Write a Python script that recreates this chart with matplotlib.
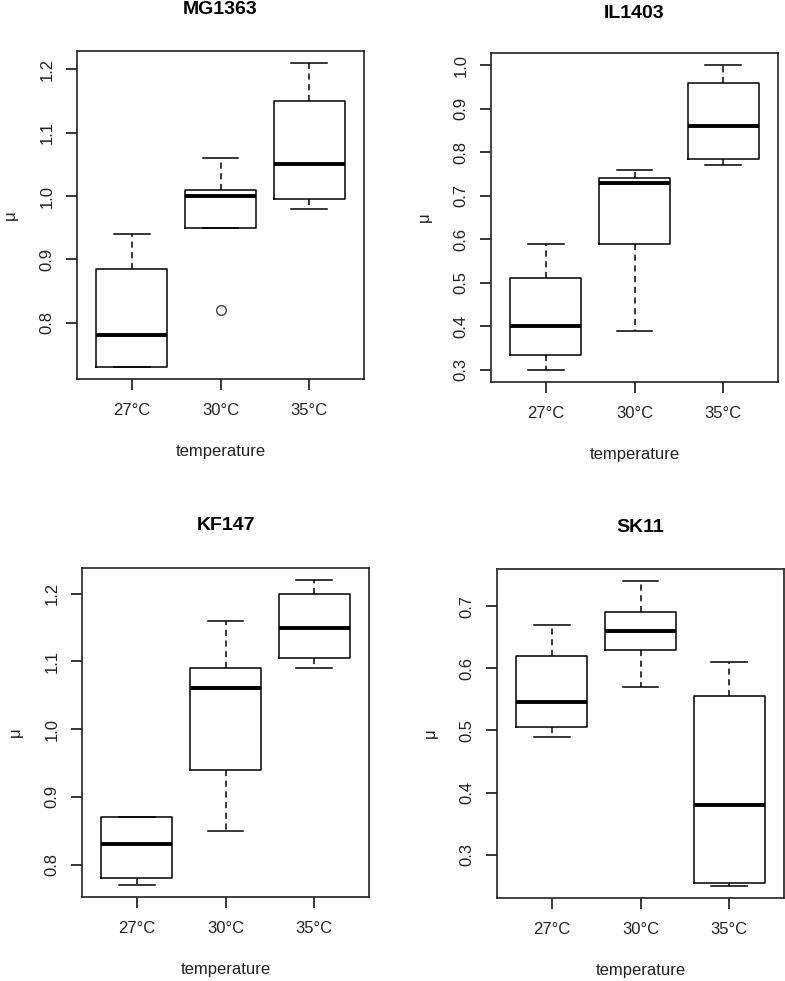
import matplotlib.pyplot as plt

plt.rcParams['font.family'] = ['Liberation Sans', 'DejaVu Sans']

temps = ['27°C', '30°C', '35°C']
strains = ['MG1363', 'IL1403', 'KF147', 'SK11']

# five-number summaries: (whislo, q1, med, q3, whishi)
mg1363 = [(0.73, 0.73, 0.78, 0.885, 0.94),
          (0.95, 0.95, 1.00, 1.01, 1.06),
          (0.98, 0.995, 1.05, 1.15, 1.21)]
mg1363_out = [[], [0.82], []]

il1403 = [(0.30, 0.335, 0.40, 0.51, 0.59),
          (0.39, 0.59, 0.73, 0.74, 0.76),
          (0.77, 0.785, 0.86, 0.96, 1.00)]
il1403_out = [[], [], []]

kf147 = [(0.77, 0.78, 0.83, 0.87, 0.87),
         (0.85, 0.94, 1.06, 1.09, 1.16),
         (1.09, 1.105, 1.15, 1.20, 1.22)]
kf147_out = [[], [], []]

sk11 = [(0.49, 0.505, 0.545, 0.62, 0.67),
        (0.57, 0.63, 0.66, 0.69, 0.74),
        (0.25, 0.255, 0.38, 0.555, 0.61)]
sk11_out = [[], [], []]

yticks = {
    'MG1363': [0.8, 0.9, 1.0, 1.1, 1.2],
    'IL1403': [0.3, 0.4, 0.5, 0.6, 0.7, 0.8, 0.9, 1.0],
    'KF147': [0.8, 0.9, 1.0, 1.1, 1.2],
    'SK11': [0.3, 0.4, 0.5, 0.6, 0.7],
}

data = {'MG1363': (mg1363, mg1363_out), 'IL1403': (il1403, il1403_out),
        'KF147': (kf147, kf147_out), 'SK11': (sk11, sk11_out)}

W, H = 785, 981
# axes boxes in pixels: left, top, right, bottom
boxes = {
    'MG1363': (77, 51, 364, 379),
    'IL1403': (491, 53, 778, 382),
    'KF147': (82, 568, 369, 897),
    'SK11': (497, 569, 784, 898),
}
title_y = {'MG1363': 10, 'IL1403': 13, 'KF147': 525, 'SK11': 527}

fig = plt.figure(figsize=(W / 100, H / 100), dpi=100)
fig.patch.set_facecolor('white')

for name in strains:
    l, t, r, b = boxes[name]
    ax = fig.add_axes([l / W, 1 - b / H, (r - l) / W, (b - t) / H])
    summ, outs = data[name]
    stats = []
    for (lo, q1, med, q3, hi), fl, lab in zip(summ, outs, temps):
        stats.append(dict(whislo=lo, q1=q1, med=med, q3=q3, whishi=hi,
                          fliers=fl, label=lab))
    ax.bxp(stats, positions=[1, 2, 3], widths=0.8, showfliers=True,
           boxprops=dict(color='black', lw=1.1),
           medianprops=dict(color='black', lw=2.8, solid_capstyle='butt'),
           whiskerprops=dict(color='black', lw=1.1, linestyle=(0, (4, 3))),
           capprops=dict(color='black', lw=1.1),
           capwidths=0.4,
           flierprops=dict(marker='o', markerfacecolor='none',
                           markeredgecolor='#444444', markersize=7, mew=1))
    vals = [v for s in summ for v in s] + [v for f in outs for v in f]
    lo, hi = min(vals), max(vals)
    pad = (hi - lo) * 0.04
    ax.set_ylim(lo - pad, hi + pad)
    ax.set_xlim(0.38, 3.62)
    ax.set_yticks(yticks[name])
    ax.set_yticklabels([f'{v:.1f}' for v in yticks[name]], rotation=90,
                       va='center')
    ax.tick_params(direction='out', length=8, width=1.1, labelsize=12,
                   colors='black', labelcolor='#222222')
    ax.tick_params(axis='x', pad=9)
    ax.tick_params(axis='y', pad=8)
    for sp in ax.spines.values():
        sp.set_linewidth(1.2)
        sp.set_color('#222222')
    ax.set_xlabel('temperature', fontsize=12, labelpad=19, color='#222222')
    ax.set_ylabel('μ', fontsize=12, labelpad=16, color='#222222')
    fig.text((l + r) / 2 / W, 1 - title_y[name] / H, name, ha='center',
             va='center', fontsize=14, fontweight='bold')

fig.savefig('out.png', dpi=100)
